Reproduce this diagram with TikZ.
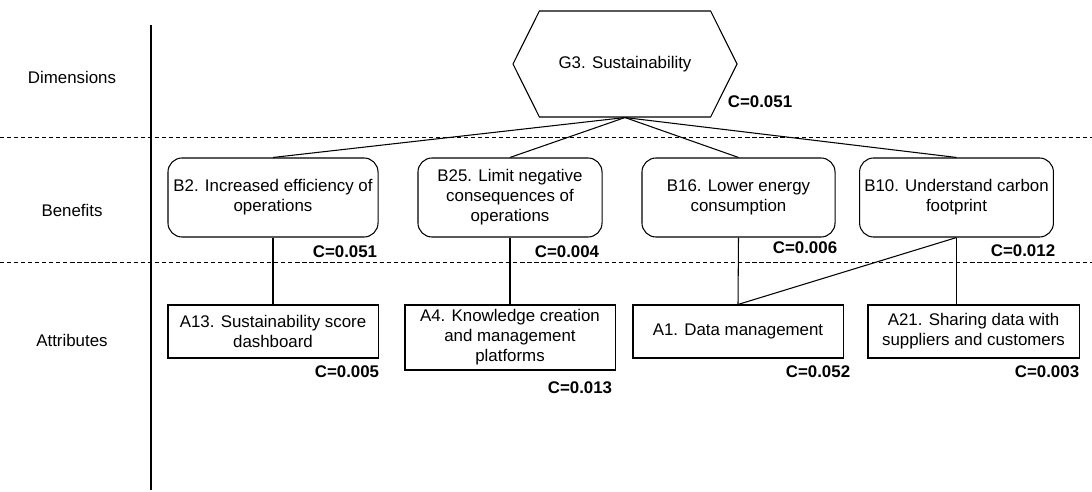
\documentclass[tikz,border=0pt]{standalone}
\usepackage{fontspec}
\setmainfont{Liberation Sans}
\usepackage{tikz}
\usetikzlibrary{shapes.geometric,shapes.symbols}

\tikzset{
	benefit/.style={draw, rounded corners=10pt, align=center, minimum height=1.975cm, line width=0.75pt},
	attr/.style={draw, rectangle, align=center, line width=0.75pt},
	cval/.style={font=\fontsize{12}{14.2}\selectfont\bfseries},
	layer/.style={dashed, dash pattern=on 3pt off 2pt, line width=0.7pt},
}

\begin{document}
\begin{tikzpicture}[x=0.025cm, y=-0.025cm, line width=0.75pt, font=\fontsize{12}{14.2}\selectfont]
			\useasboundingbox (0,0) rectangle (1092,492);
			
			% layers
			\draw (151,25) -- (151,490);
			\draw[layer] (0,137) -- (1092,137);
			\draw[layer] (0,262) -- (1092,262);
			\node (dim) at (72,77) {Dimensions};
			\node (ben) at (72,210) {Benefits};
			\node (att) at (72,340) {Attributes};
			
			\node[draw, signal, signal to=west and east, signal pointer angle=127, minimum width=5.6cm, minimum height=2.65cm, inner sep=0pt] (g3) at (625,64) {G3. Sustainability};
			
			\node[benefit, minimum width=5.25cm] (b2) at (273,197.5) {B2. Increased efficiency of\\operations};
			\node[benefit, minimum width=4.6cm] (b25) at (510,197.5) {B25. Limit negative\\consequences of\\operations};
			\node[benefit, minimum width=4.825cm] (b16) at (738.5,197.5) {B16. Lower energy\\consumption};
			\node[benefit, minimum width=4.825cm] (b10) at (956.5,197.5) {B10. Understand carbon\\footprint};
			
			\node[attr, minimum width=5.25cm, minimum height=1.325cm] (a13) at (273,331.5) {A13. Sustainability score\\dashboard};
			\node[attr, minimum width=5.25cm, minimum height=1.625cm] (a4) at (510,337.5) {A4. Knowledge creation\\and management\\platforms};
			\node[attr, minimum width=5.25cm, minimum height=1.325cm] (a1) at (738,331.5) {A1. Data management};
			\node[attr, minimum width=5.275cm, minimum height=1.325cm] (a21) at (973.5,331.5) {A21. Sharing data with\\suppliers and customers};
			
			\node[cval] (cg3) at (760,102) {C=0.051};
			\node[cval] (cb2) at (345,252) {C=0.051};
			\node[cval] (cb25) at (567,252) {C=0.004};
			\node[cval] (cb16) at (805,248) {C=0.006};
			\node[cval] (cb10) at (1023,251) {C=0.012};
			\node[cval] (ca13) at (347,372) {C=0.005};
			\node[cval] (ca4) at (580,388) {C=0.013};
			\node[cval] (ca1) at (818,372) {C=0.052};
			\node[cval] (ca21) at (1047,372) {C=0.003};
			
			\draw (g3.south) to (b2.north);
			\draw (g3.south) to (b25.north);
			\draw (g3.south) to (b16.north);
			\draw (g3.south) to (b10.north);
			\draw (b2.south) to (a13.north);
			\draw (b25.south) to (a4.north);
			\draw (b16.south) to (a1.north);
			\draw (b10.south) to (a1.north);
			\draw (b10.south) to (b10.south |- a21.north);
		\end{tikzpicture}
\end{document}
